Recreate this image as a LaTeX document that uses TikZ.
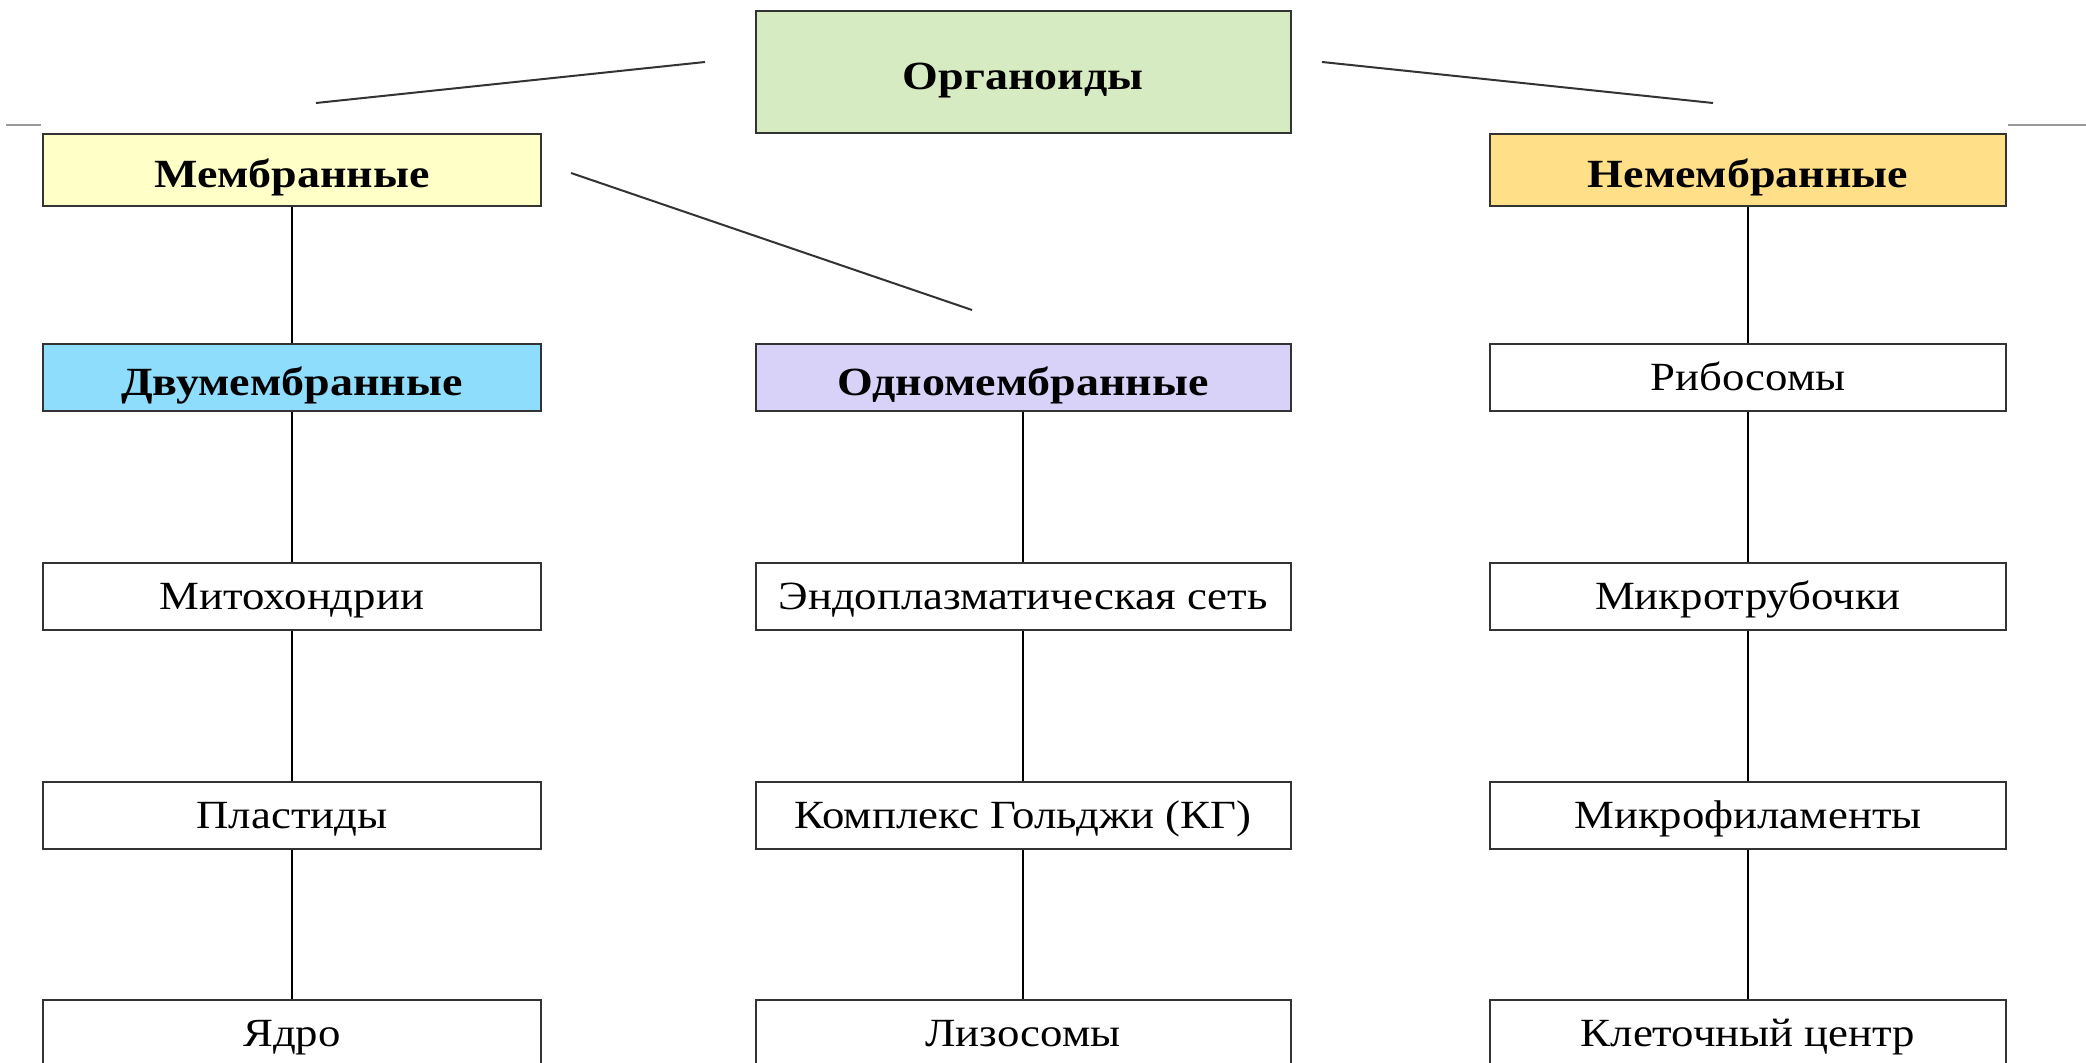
\documentclass[tikz,border=0pt]{standalone}
\usepackage{fontspec}
\setmainfont{Liberation Serif}[FakeStretch=1.15]
\newfontfamily\normfont{Liberation Serif}[FakeStretch=1.12]
\definecolor{cgreen}{HTML}{D7EBC3}
\definecolor{cyellow}{HTML}{FFFFC8}
\definecolor{corange}{HTML}{FFDF88}
\definecolor{cblue}{HTML}{8FDDFC}
\definecolor{clav}{HTML}{D9D2F8}
\definecolor{cline}{HTML}{333333}
\begin{document}
\begin{tikzpicture}[x=0.5pt,y=-0.5pt,
  box/.style={draw=cline,line width=1pt,rectangle,inner sep=0pt,
    font=\fontsize{20}{23}\normfont,text height=17.4pt,text depth=4.4pt},
  head/.style={box,font=\fontsize{20}{23}\selectfont\bfseries,text height=22.4pt,text depth=4.4pt},
  wA/.style={minimum width=249pt},
  wB/.style={minimum width=267.5pt},
  wC/.style={minimum width=258pt},
  hS/.style={minimum height=33.5pt},
  conn/.style={draw=black,line width=0.75pt},
  diag/.style={draw=cline,line width=1pt},
  stub/.style={draw=gray!80,line width=1pt}]
\useasboundingbox (0,0) rectangle (2086,1063);
\fill[white] (0,0) rectangle (2086,1063);
% top
\node[head,fill=cgreen,wB,minimum height=61pt] (org) at (1023,72) {Органоиды};
\node[head,fill=cyellow,wA,minimum height=36pt] (mem) at (292,170) {Мембранные};
\node[head,fill=corange,wC,minimum height=36pt] (nmem) at (1748,170) {Немембранные};
% row 2
\node[head,fill=cblue,wA,hS] (dvu) at (292,377.5) {Двумембранные};
\node[head,fill=clav,wB,hS] (odno) at (1023,377.5) {Одномембранные};
\node[box,fill=white,wC,hS] (ribo) at (1748,377.5) {Рибосомы};
% row 3
\node[box,fill=white,wA,hS] (mito) at (292,596) {Митохондрии};
\node[box,fill=white,wB,hS] (eps) at (1023,596) {Эндоплазматическая сеть};
\node[box,fill=white,wC,hS] (mtub) at (1748,596) {Микротрубочки};
% row 4
\node[box,fill=white,wA,hS] (plas) at (292,815) {Пластиды};
\node[box,fill=white,wB,hS] (golgi) at (1023,815) {Комплекс Гольджи (КГ)};
\node[box,fill=white,wC,hS] (mfil) at (1748,815) {Микрофиламенты};
% row 5
\node[box,fill=white,wA,hS] (yad) at (292,1033) {Ядро};
\node[box,fill=white,wB,hS] (lys) at (1023,1033) {Лизосомы};
\node[box,fill=white,wC,hS] (kc) at (1748,1033) {Клеточный центр};
% vertical connectors
\draw[conn] (mem.south) -- (dvu.north);
\draw[conn] (dvu.south) -- (mito.north);
\draw[conn] (mito.south) -- (plas.north);
\draw[conn] (plas.south) -- (yad.north);
\draw[conn] (odno.south) -- (eps.north);
\draw[conn] (eps.south) -- (golgi.north);
\draw[conn] (golgi.south) -- (lys.north);
\draw[conn] (nmem.south) -- (ribo.north);
\draw[conn] (ribo.south) -- (mtub.north);
\draw[conn] (mtub.south) -- (mfil.north);
\draw[conn] (mfil.south) -- (kc.north);
% floating lines
\coordinate (d1a) at (316,103);
\coordinate (d1b) at (705,62);
\coordinate (d2a) at (1322,62);
\coordinate (d2b) at (1713,103);
\coordinate (d3a) at (571,173);
\coordinate (d3b) at (972,310);
\coordinate (s1a) at (6,125);
\coordinate (s1b) at (41,125);
\coordinate (s2a) at (2008,125);
\coordinate (s2b) at (2086,125);
\draw[diag] (d1a) -- (d1b);
\draw[diag] (d2a) -- (d2b);
\draw[diag] (d3a) -- (d3b);
\draw[stub] (s1a) -- (s1b);
\draw[stub] (s2a) -- (s2b);
\end{tikzpicture}
\end{document}
